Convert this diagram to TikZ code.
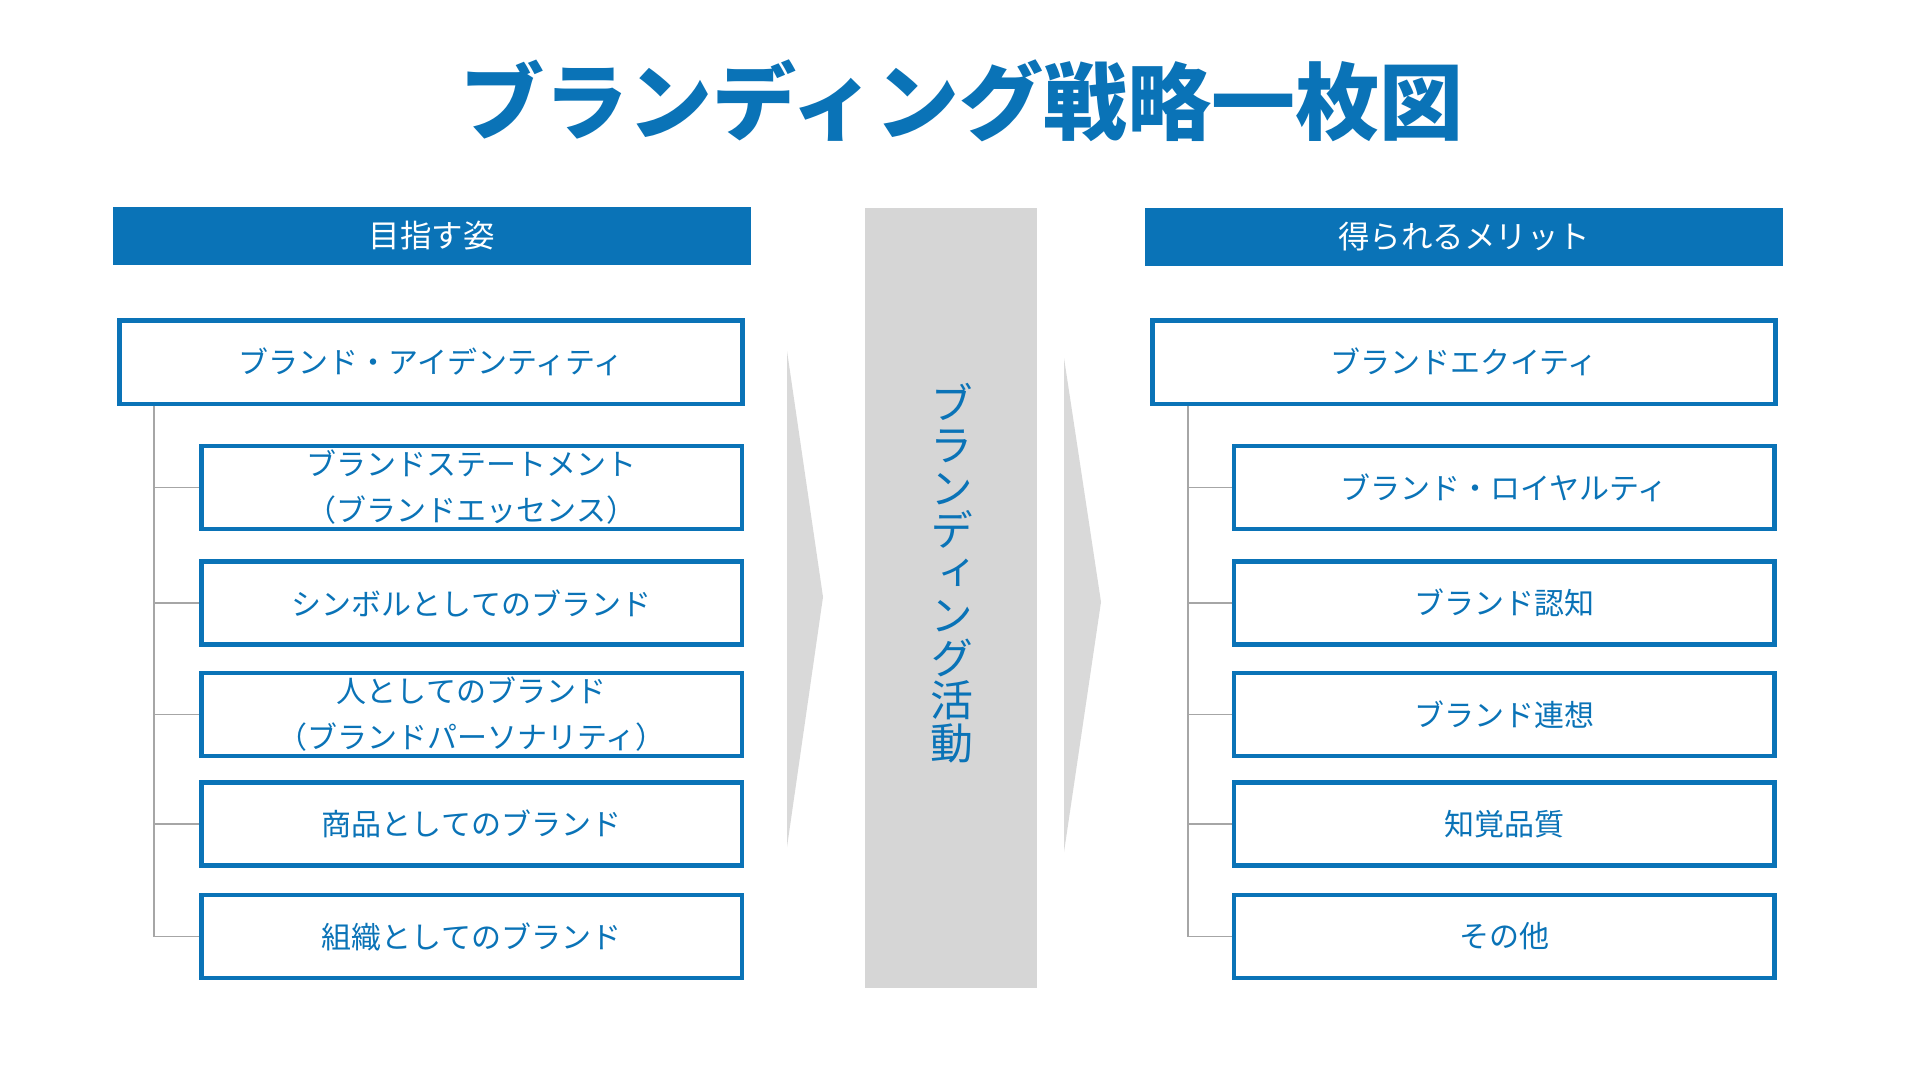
\documentclass[tikz,border=0pt]{standalone}
\usepackage{fontspec}
\setmainfont{Noto Sans CJK JP}
\newfontfamily\vjp{Noto Sans CJK JP}[RawFeature=+vert]
\definecolor{bl}{HTML}{0A73B7}
\definecolor{colgray}{HTML}{D6D6D6}
\definecolor{chevgray}{HTML}{D9D9D9}
\definecolor{treegray}{HTML}{A6A6A6}
\begin{document}
\begin{tikzpicture}[x=1pt,y=-1pt,
  box/.style={draw=bl, line width=4.5pt, fill=white, text=bl, font=\fontsize{30}{46}\selectfont, align=center, inner sep=0pt},
  topbox/.style={box, minimum width=623pt, minimum height=83.5pt},
  subbox/.style={box, minimum width=540.5pt, minimum height=83pt},
  head/.style={fill=bl, text=white, font=\fontsize{31.5}{36}\selectfont, minimum width=638pt, minimum height=58pt, inner sep=0pt},
  tree/.style={draw=treegray, line width=1.8pt},
  chev/.style={fill=chevgray},
  title/.style={text=bl, font=\fontsize{84}{84}\selectfont\bfseries, inner sep=0pt}]
\useasboundingbox (0,0) rectangle (1920,1080);
\fill[white] (0,0) rectangle (1920,1080);

% title
\node[title] (title) at (962,101) {ブランディング戦略一枚図};

% center column and chevrons
\fill[colgray] (865,208) rectangle (1037,988);
\node[text=bl, font=\vjp\fontsize{43}{42.5}\selectfont, align=center, inner sep=0pt] (act) at (952,573)
  {ブ\\ラ\\ン\\デ\\ィ\\ン\\グ\\活\\動};
\fill[chev] (787,351) -- (823,597) -- (787,847) -- cycle;
\fill[chev] (1064,358) -- (1101,602) -- (1064,852) -- cycle;

% left side
\node[head] (lhead) at (431.5,236) {目指す姿};
\node[topbox] (ltop) at (431,362) {ブランド・アイデンティティ};
\node[subbox] (l1) at (471.5,487.5) {ブランドステートメント\\（ブランドエッセンス）};
\node[subbox] (l2) at (471.5,603) {シンボルとしてのブランド};
\node[subbox] (l3) at (471.5,714.5) {人としてのブランド\\（ブランドパーソナリティ）};
\node[subbox] (l4) at (471.5,824) {商品としてのブランド};
\node[subbox] (l5) at (471.5,936.5) {組織としてのブランド};
\coordinate (lv) at (154,406);
\draw[tree] (lv) |- (l5.west);
\foreach \n in {l1,l2,l3,l4} \draw[tree] (lv |- \n.west) -- (\n.west);

% right side
\node[head] (rhead) at (1464,236.5) {得られるメリット};
\node[topbox] (rtop) at (1464,362) {ブランドエクイティ};
\node[subbox] (r1) at (1504,487.5) {ブランド・ロイヤルティ};
\node[subbox] (r2) at (1504,603) {ブランド認知};
\node[subbox] (r3) at (1504,714.5) {ブランド連想};
\node[subbox] (r4) at (1504,824) {知覚品質};
\node[subbox] (r5) at (1504,936.5) {その他};
\coordinate (rv) at (1188,406);
\draw[tree] (rv) |- (r5.west);
\foreach \n in {r1,r2,r3,r4} \draw[tree] (rv |- \n.west) -- (\n.west);
\end{tikzpicture}
\end{document}
